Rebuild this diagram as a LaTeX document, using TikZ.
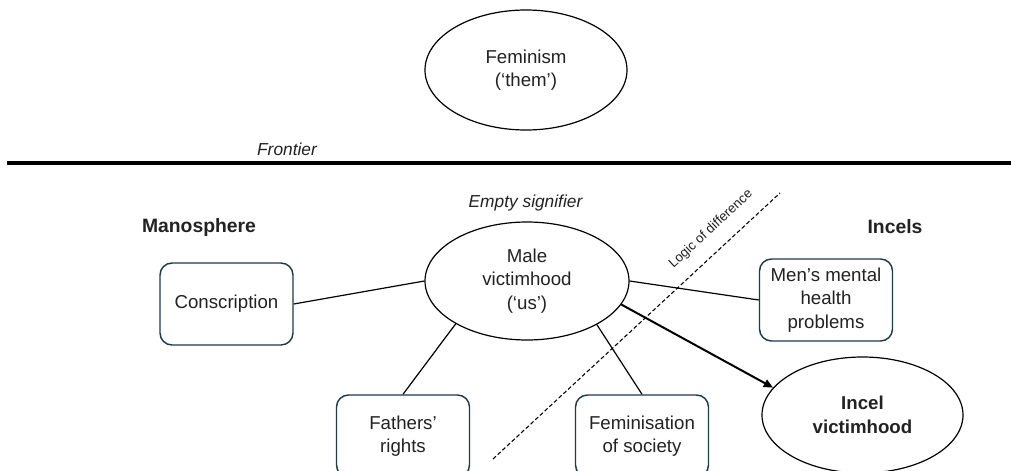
\documentclass[tikz,border=0pt]{standalone}
\usepackage{fontspec}
\setmainfont{Liberation Sans}
\usetikzlibrary{shapes.geometric,arrows.meta}
\definecolor{boxc}{HTML}{1F3A4A}
\definecolor{txt}{HTML}{222222}
\begin{document}
\begin{tikzpicture}[x=0.75pt,y=-0.75pt,
  every node/.style={text=txt, font=\fontsize{14}{17.6}\selectfont, align=center},
  oval/.style={draw, ellipse, inner sep=0pt, line width=0.9pt},
  stepbox/.style={draw=boxc, rounded corners=9pt, minimum width=99.75pt, minimum height=61.5pt, line width=1.1pt, inner sep=0pt},
  link/.style={line width=0.9pt},
  heading/.style={font=\fontsize{14.5}{17.6}\selectfont\bfseries},
  note/.style={font=\fontsize{13}{16}\selectfont\itshape}]
\clip (0,0) rectangle (1011,471);
\fill[white] (0,0) rectangle (1011,471);
% ellipses
\node[oval, minimum width=151.5pt, minimum height=90pt] (fem) at (526,70) {Feminism\\(‘them’)};
\node[oval, minimum width=153pt, minimum height=88.5pt] (male) at (527,281) {Male\\victimhood\\(‘us’)};
\node[oval, minimum width=150.75pt, minimum height=87pt, font=\fontsize{14}{17.6}\selectfont\bfseries] (incel) at (862.5,415) {Incel\\victimhood};
% boxes
\node[stepbox] (cons) at (226.5,304) {Conscription};
\node[stepbox] (men) at (826,300) {Men’s mental\\health\\problems};
\node[stepbox] (fath) at (403,436) {Fathers’\\rights};
\node[stepbox] (femsoc) at (642,436) {Feminisation\\of society};
% labels
\node[note] (front) at (287,149) {Frontier};
\node[note] (empty) at (525.5,203) {Empty signifier};
\node[heading] (mano) at (199,227) {Manosphere};
\node[heading] (inc) at (895,227) {Incels};
\node[font=\fontsize{10}{12}\selectfont, rotate=43] (logic) at (711,229) {Logic of difference};
% frontier line
\coordinate (fl) at (7,163);
\coordinate (fr) at (1011,163);
\draw[line width=2.3pt] (fl) -- (fr);
% dashed line
\coordinate (d1) at (493,459);
\coordinate (d2) at (780,193);
\draw[line width=0.8pt, dash pattern=on 3pt off 1.8pt] (d1) -- (d2);
% connectors
\draw[link] (cons.east) -- (male.west);
\draw[link] (men.west) -- (male.east);
\draw[link] (fath.north) -- (male.211);
\draw[link] (femsoc.north) -- (male.328);
\draw[line width=1.5pt, -{Triangle[length=7pt,width=6pt]}] (male.346) -- (incel.163);
\end{tikzpicture}
\end{document}
